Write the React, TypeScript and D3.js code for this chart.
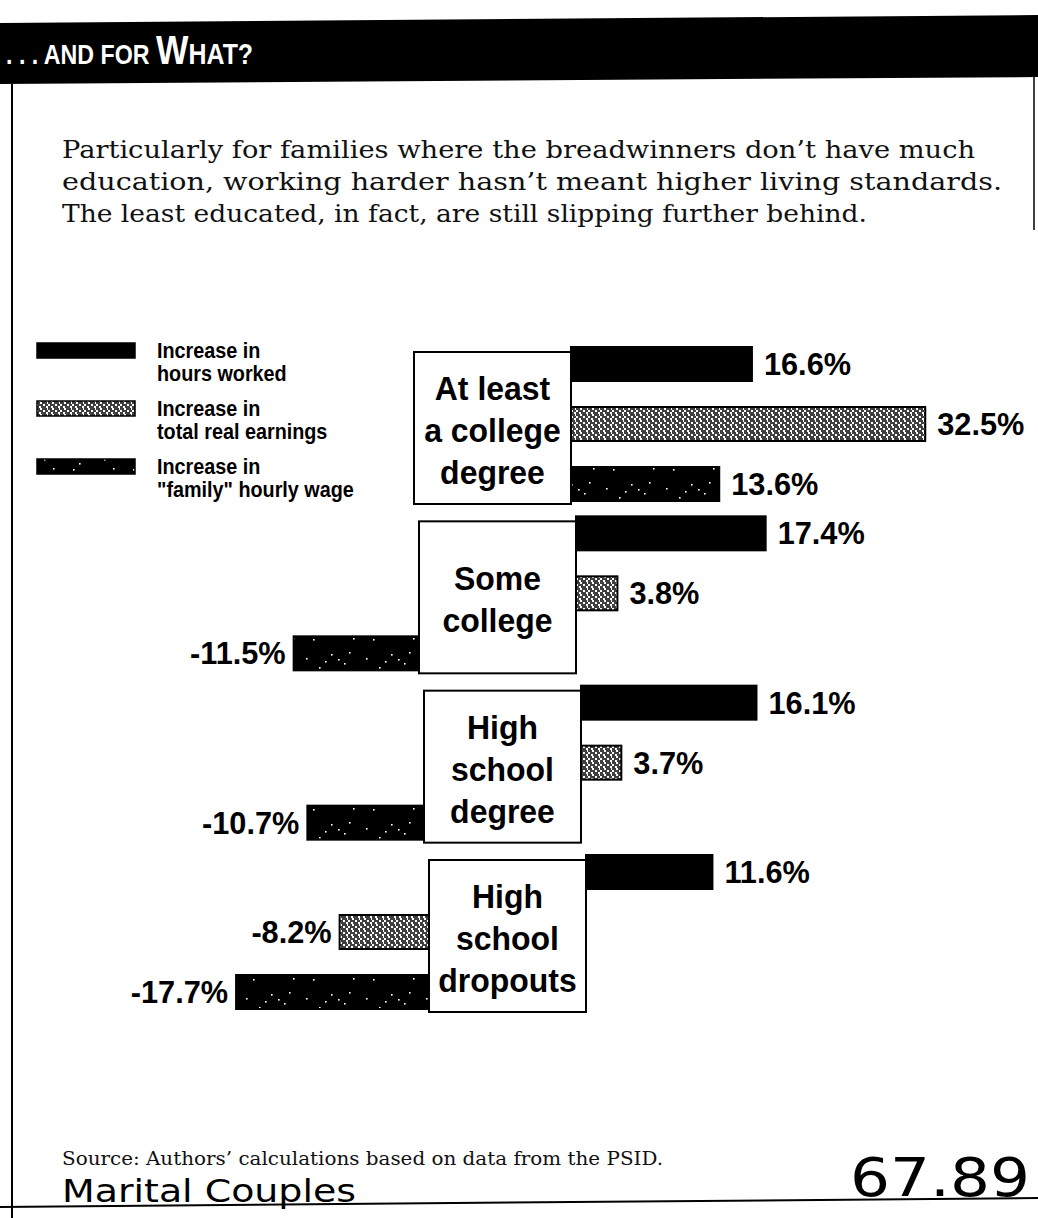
import React from "react";
import * as d3 from "d3";

const groups = ["At least a college degree", "Some college", "High school degree", "High school dropouts"];
const groupLines = [["At least", "a college", "degree"], ["Some", "college"], ["High", "school", "degree"], ["High", "school", "dropouts"]];
const seriesKeys = ["hours", "earnings", "wage"];
const legendLines = [["Increase in", "hours worked"], ["Increase in", "total real earnings"], ["Increase in", "\"family\" hourly wage"]];
const hoursWorked = [16.6, 17.4, 16.1, 11.6];
const realEarnings = [32.5, 3.8, 3.7, -8.2];
const familyWage = [13.6, -11.5, -10.7, -17.7];
const paragraph = [
  "Particularly for families where the breadwinners don\u2019t have much",
  "education, working harder hasn\u2019t meant higher living standards.",
  "The least educated, in fact, are still slipping further behind.",
];
const paragraphWidths = [913, 940, 805];
const sourceText = "Source: Authors\u2019 calculations based on data from the PSID.";

const W = 1038;
const H = 1218;
const SANS = "'Liberation Sans', Arial, sans-serif";
const SERIF = "'DejaVu Serif', 'Liberation Serif', serif";

const fills = ["#000", "url(#pEarn)", "url(#pWage)"];

function NT(props: { x: number; y: number; size: number; anchor?: string; sx?: number; fill?: string; children: React.ReactNode }) {
  const { x, y, size, anchor = "start", sx = 0.82, fill = "#000", children } = props;
  return (
    <text
      transform={`translate(${x},${y}) scale(${sx},1)`}
      textAnchor={anchor}
      fontFamily={SANS}
      fontWeight="bold"
      fontSize={size}
      fill={fill}
    >
      {children}
    </text>
  );
}

export default function App() {
  const x = d3.scaleLinear().domain([0, 10]).range([0, 109]);
  const yGroup = d3.scalePoint<string>().domain(groups).range([364, 872]);
  const yInner = d3.scalePoint<string>().domain(seriesKeys).range([0, 120]);
  const barH = 34;
  const boxW = 157;
  const values = [hoursWorked, realEarnings, familyWage];

  const specks = [
    [6, 12], [19, 21], [31, 8], [44, 17], [53, 26], [13, 27], [38, 13], [25, 15], [49, 6],
  ];

  return (
    <svg width={W} height={H} style={{ position: "absolute", left: 0, top: 0, background: "#fff" }}>
      <defs>
        <pattern id="pEarn" width={12} height={6} patternUnits="userSpaceOnUse">
          <rect width={12} height={6} fill="#fff" />
          <path d="M0 1H4M6 1H11M2 3H7M9 3H12M0 5H3M5 5H10" stroke="#000" strokeWidth={1.3} />
        </pattern>
        <pattern id="pWage" width={60} height={34} patternUnits="userSpaceOnUse">
          <rect width={60} height={34} fill="#000" />
          {specks.map((s, i) => (
            <rect key={i} x={s[0]} y={s[1]} width={1.6} height={1.6} fill="#fff" />
          ))}
        </pattern>
      </defs>

      {/* title bar */}
      <polygon points={`0,23 ${W},15 ${W},77 0,84`} fill="#000" />
      <text transform="translate(6,64) scale(0.86,1)" fill="#fff" fontFamily={SANS} fontWeight="bold">
        <tspan fontSize={27}>{". . . AND FOR "}</tspan>
        <tspan fontSize={40}>W</tspan>
        <tspan fontSize={29}>HAT?</tspan>
      </text>

      {/* frame lines */}
      <line x1={12} y1={84} x2={12} y2={H} stroke="#000" strokeWidth={2} />
      <line x1={1034} y1={77} x2={1034} y2={230} stroke="#000" strokeWidth={1.5} />
      <line x1={0} y1={1207} x2={W} y2={1198} stroke="#000" strokeWidth={2} />

      {/* paragraph */}
      {paragraph.map((t, i) => (
        <text
          key={i}
          x={62}
          y={158 + i * 32}
          fontFamily={SERIF}
          fontSize={24}
          fill="#111"
          textLength={paragraphWidths[i]}
          lengthAdjust="spacingAndGlyphs"
        >
          {t}
        </text>
      ))}

      {/* legend */}
      {legendLines.map((lines, i) => {
        const top = 343 + i * 58;
        return (
          <g key={i}>
            <rect x={37} y={top} width={98} height={15} fill={fills[i]} stroke="#000" strokeWidth={1.5} />
            {lines.map((l, j) => (
              <NT key={j} x={157} y={top + 15 + j * 23} size={22} sx={0.9}>
                {l}
              </NT>
            ))}
          </g>
        );
      })}

      {/* groups */}
      {groups.map((g, gi) => {
        const gy = yGroup(g)!;
        const boxLeft = 414 + gi * 5;
        const boxRight = boxLeft + boxW;
        const boxTop = gy - 12;
        const boxBottom = gy + yInner("wage")! + 20;
        const cy = (boxTop + boxBottom) / 2 + 2;
        const lines = groupLines[gi];
        return (
          <g key={g}>
            {seriesKeys.map((k, si) => {
              const v = values[si][gi];
              const len = x(Math.abs(v));
              const cyBar = gy + yInner(k)!;
              const bx = v >= 0 ? boxRight : boxLeft - len;
              return (
                <g key={k}>
                  <rect x={bx} y={cyBar - barH / 2} width={len} height={barH} fill={fills[si]} stroke="#000" strokeWidth={2} />
                  <NT
                    x={v >= 0 ? boxRight + len + 12 : boxLeft - len - 8}
                    y={cyBar + 11}
                    anchor={v >= 0 ? "start" : "end"}
                    size={32}
                    sx={0.96}
                  >
                    {`${v.toFixed(1)}%`}
                  </NT>
                </g>
              );
            })}
            <rect x={boxLeft} y={boxTop} width={boxW} height={boxBottom - boxTop} fill="#fff" stroke="#000" strokeWidth={2} />
            {lines.map((l, li) => (
              <NT
                key={li}
                x={(boxLeft + boxRight) / 2}
                y={cy + (li - (lines.length - 1) / 2) * 42 + 12}
                anchor="middle"
                size={34}
                sx={0.94}
              >
                {l}
              </NT>
            ))}
          </g>
        );
      })}

      {/* source */}
      <text x={62} y={1165} fontFamily={SERIF} fontSize={19} fill="#111" textLength={601} lengthAdjust="spacingAndGlyphs">
        {sourceText}
      </text>
      <text x={62} y={1202} fontFamily="'DejaVu Sans', sans-serif" fontSize={32} fill="#000" textLength={294} lengthAdjust="spacingAndGlyphs">
        Marital Couples
      </text>
      <text x={850} y={1196} fontFamily="'DejaVu Sans', sans-serif" fontSize={54} fill="#000" textLength={180} lengthAdjust="spacingAndGlyphs">
        67.89
      </text>
    </svg>
  );
}
